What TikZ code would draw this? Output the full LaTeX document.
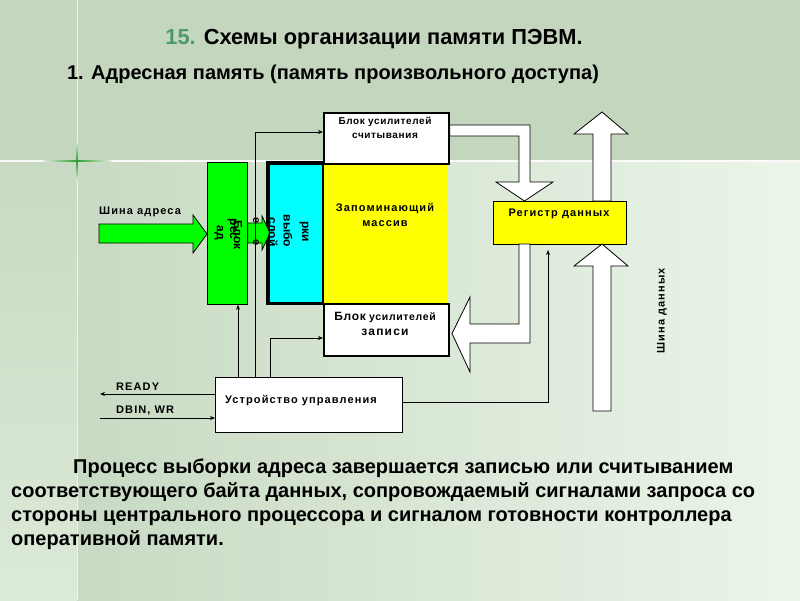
\documentclass[tikz,border=0pt]{standalone}
\usepackage{fontspec}
\setmainfont{Liberation Sans}
\newfontfamily\lsf[LetterSpace=10]{Liberation Sans}
\newfontfamily\lsg[LetterSpace=6]{Liberation Sans}
\usetikzlibrary{arrows.meta,calc}
\definecolor{bgtop}{HTML}{C5D6BE}
\definecolor{bgleft}{HTML}{C8DAC3}
\definecolor{bgright}{HTML}{EBF5E9}
\definecolor{bgstrip}{HTML}{DCEAD8}
\definecolor{numgreen}{HTML}{4C9A6C}
\definecolor{gA}{HTML}{00FF00}
\definecolor{cA}{HTML}{00FFFF}
\definecolor{yA}{HTML}{FFFF00}
\definecolor{spark}{HTML}{2E9E2E}
\newcommand{\fsz}[1]{\fontsize{#1}{#1}\selectfont}
\tikzset{
  thinln/.style={line width=0.8pt},
  sig/.style={thinln, -{Stealth[length=5pt,width=4pt]}},
  wbox/.style={draw, line width=1.8pt, fill=white, inner sep=0pt, anchor=north west},
  blk/.style={draw, line width=0.8pt, inner sep=0pt, anchor=north west},
  lbl/.style={inner sep=0pt, font=\lsf\bfseries\fsz{11}},
  rot/.style={inner sep=0pt, rotate=-90, font=\bfseries\fsz{12}},
  barrow/.style={draw, line width=0.8pt, line join=miter},
  big/.style={inner sep=0pt, font=\bfseries\fsz{20}, anchor=base west}
}
\begin{document}
\begin{tikzpicture}[x=1pt,y=-1pt]
\useasboundingbox (0,0) rectangle (800,600);
% background
\fill[bgtop] (0,0) rectangle (800,161);
\shade[top color=bgleft, bottom color=bgstrip] (0,161) rectangle (77,600);
\shade[left color=bgleft, right color=bgright] (77,161) rectangle (800,600);
\draw[white, line width=1pt, opacity=0.7] (77,0) -- (77,600);
\draw[white, line width=1.2pt, opacity=0.9] (0,161) -- (800,161);
\shade[left color=white!50!bgtop, right color=white!50!bgtop, middle color=spark] (43,160.3) rectangle (111,161.7);
\shade[top color=white!50!bgtop, bottom color=white!50!bgtop, middle color=spark] (76.3,141) rectangle (77.7,181);

% titles
\node[inner sep=0pt, font=\bfseries\fsz{21.8}, anchor=base] (title) at (374,44.5)
  {\textcolor{numgreen}{15.} Схемы организации памяти ПЭВМ.};
\node[inner sep=0pt, font=\bfseries\fsz{20}, anchor=base] (subtitle) at (333,79)
  {1. Адресная память (память произвольного доступа)};

% blocks
\node[blk, fill=gA, minimum width=40pt, minimum height=142pt] (ab) at (207,162) {};
\node[inner sep=0pt, anchor=north west, fill=yA, minimum width=125pt, minimum height=140pt] (arr) at (323,163) {};
\node[fill=cA, inner sep=0pt, anchor=north west, minimum width=55pt, minimum height=140pt] (sel) at (268,163) {};
\draw[line width=2pt] (sel.north east) -- (sel.south east);
\draw[line width=3.2pt, line join=miter] (sel.north east) -- (sel.north west) -- (sel.south west) -- (sel.south east);
\node[wbox, minimum width=125pt, minimum height=51pt] (rd) at (323,112) {};
\node[wbox, minimum width=125pt, minimum height=52pt] (wr) at (323,303) {};
\node[blk, fill=yA, minimum width=133pt, minimum height=43pt] (reg) at (493,201) {};
\node[blk, fill=white, minimum width=187pt, minimum height=55pt] (cu) at (215,377) {};

% block texts
\node[lbl, font=\lsg\bfseries\fsz{10}] (rdt1) at (385,122) {Блок усилителей};
\node[lbl, font=\lsg\bfseries\fsz{10}] (rdt2) at (385,136) {считывания};
\node[lbl] (arrt1) at (385,208) {Запоминающий};
\node[lbl] (arrt2) at (385,224) {массив};
\node[lbl, font=\lsg\bfseries] (wrt1) at (385,317) {{\fsz{12}Блок} {\fsz{10.5}усилителей}};
\node[lbl, font=\lsf\bfseries\fsz{12}] (wrt2) at (385,332) {записи};
\node[lbl] (regt) at (559,214) {Регистр данных};
\node[lbl] (cut) at (301,401) {Устройство управления};

% address bus arrow
\draw[barrow, fill=gA] (99,224) -- (193,224) -- (193,215) -- (ab.west |- 0,234) -- (193,253) -- (193,243) -- (99,243) -- cycle;
\node[lbl, anchor=west] (abus) at (99,212) {Шина адреса};

% rotated texts in address block and selection layer
\node[rot] (ad1) at (219,233) {ад};
\node[rot] (ad2) at (232,229) {рес};
\node[rot] (ad3) at (238,235) {Блок};

% arrow from address block to selection layer
\draw[barrow, fill=gA] (ab.east |- 0,223) -- (262,223) -- (262,216) -- (270,233) -- (262,250) -- (262,243) -- (ab.east |- 0,243) -- cycle;
\node[rot, font=\bfseries\fsz{11}] (e1) at (256,221) {е};
\node[rot, font=\bfseries\fsz{11}] (e2) at (256,243) {е};
\node[rot] (s1) at (273,232) {слой};
\node[rot] (s2) at (288,231) {выбо};
\node[rot] (s3) at (304,232) {рки};

% white block arrows
\draw[barrow, fill=white] (rd.east |- 0,125) -- (530,125) -- (530,182) -- (553,182) -- (524.5,201) -- (496,182) -- (519,182) -- (519,136) -- (rd.east |- 0,136) -- cycle;
\draw[barrow, fill=white] (519,244) -- (530,244) -- (530,343) -- (470,343) -- (470,372) -- (452,333.5) -- (470,297) -- (470,324) -- (519,324) -- cycle;
\draw[barrow, fill=white] (593,201) -- (593,134) -- (574,134) -- (602,112) -- (628,134) -- (611,134) -- (611,201) -- cycle;
\draw[barrow, fill=white] (593,411) -- (593,266) -- (574,266) -- (602,244) -- (628,266) -- (611,266) -- (611,411) -- cycle;
\node[inner sep=0pt, rotate=90, font=\lsf\bfseries\fsz{11}] (dbus) at (662,311) {Шина данных};

% control signals
\draw[sig] (cu.north -| 238,0) -- (ab.south -| 238,0);
\draw[sig] (cu.north -| 255,0) |- (rd.west |- 0,132);
\draw[sig] (cu.north -| 270,0) |- (wr.west |- 0,338);
\draw[sig] (cu.east |- 0,402) -| (548,250);
\coordinate (readyend) at (100,394);
\coordinate (dbinstart) at (100,418);
\draw[sig] (cu.west |- 0,394) -- (readyend);
\draw[sig] (dbinstart) -- (cu.west |- 0,418);
\node[lbl, anchor=west] (ready) at (116,387) {READY};
\node[lbl, anchor=west] (dbin) at (116,411) {DBIN, WR};

% paragraph
\node[big] (p1) at (73,473) {Процесс выборки адреса завершается записью или считыванием};
\node[big] (p2) at (11,497) {соответствующего байта данных, сопровождаемый сигналами запроса со};
\node[big] (p3) at (11,521) {стороны центрального процессора и сигналом готовности контроллера};
\node[big] (p4) at (11,545) {оперативной памяти.};
\end{tikzpicture}
\end{document}
